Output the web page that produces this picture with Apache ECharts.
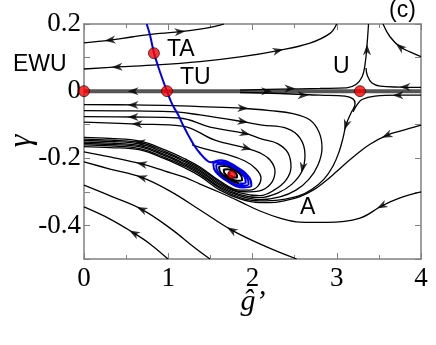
<!DOCTYPE html>
<html>
<head>
<meta charset="utf-8">
<script src="https://cdn.jsdelivr.net/npm/echarts/dist/echarts.min.js"></script>
<style>
html,body{margin:0;padding:0;background:#fff;}
#main{width:436px;height:345px;}
</style>
</head>
<body>
<div id="main"></div>
<script>
// tick labels
var xLabels = [0, 1, 2, 3, 4];
var yLabels = [0.2, 0, -0.2, -0.4];

// fixed points (red dots)
var fixedPoints = [[0, 0], [0.985, 0], [0.83, 0.113], [3.276, 0]];
var focusPoint = [[1.753, -0.248]];

// streamlines
var curveA = [[0,0.144],[0.309,0.152],[0.582,0.162],[0.902,0.172],[1.139,0.177],[1.377,0.185],[1.555,0.193],[1.662,0.2]];
var curveB = [[0,0.066],[0.392,0.072],[0.866,0.078],[1.377,0.088],[1.852,0.102],[2.306,0.121],[2.682,0.143],[2.920,0.172],[2.999,0.2]];
var curveTR = [[3.549,0.2],[3.632,0.162],[3.751,0.132],[3.869,0.117],[4,0.103]];
var zeroLine = [[0,0],[4,0]];
var uUpLeft = [[1.852,0.003],[2.326,0.006],[2.801,0.008],[3.118,0.010],[3.228,0.020],[3.300,0.042],[3.335,0.078],[3.359,0.137],[3.377,0.2]];
var uUpRight = [[4,0.011],[3.751,0.012],[3.513,0.015],[3.418,0.024],[3.365,0.045],[3.347,0.069]];
var uLow = [[1.852,-0.004],[2.326,-0.007],[2.801,-0.012],[3.098,-0.015],[3.193,-0.023],[3.217,-0.038],[3.169,-0.065],[3.110,-0.101],[3.074,-0.140],[3.027,-0.181],[2.956,-0.223],[2.849,-0.262],[2.706,-0.292],[2.540,-0.313],[2.326,-0.324],[2.089,-0.327],[1.852,-0.317],[1.614,-0.290],[1.377,-0.248],[1.199,-0.224],[0.961,-0.198],[0.665,-0.171],[0.309,-0.163],[0,-0.160]];
var uLowRight = [[4,-0.012],[3.727,-0.012],[3.454,-0.015],[3.300,-0.025],[3.240,-0.041],[3.193,-0.062]];
var curveR = [[4,-0.101],[3.751,-0.119],[3.593,-0.132],[3.395,-0.158],[3.276,-0.180],[3.098,-0.217],[2.991,-0.241],[2.861,-0.269],[2.718,-0.295],[2.564,-0.314],[2.386,-0.326],[2.208,-0.332],[2.089,-0.332],[1.852,-0.321],[1.614,-0.295],[1.377,-0.253],[1.199,-0.229],[0.961,-0.202],[0.665,-0.175],[0.309,-0.168],[0,-0.165]];
var loop1 = [[0,-0.040],[0.582,-0.041],[1.056,-0.043],[1.377,-0.046],[1.887,-0.051],[2.208,-0.058],[2.481,-0.067],[2.682,-0.086],[2.789,-0.122],[2.825,-0.169],[2.777,-0.220],[2.671,-0.262],[2.516,-0.295],[2.326,-0.315],[2.089,-0.323],[1.852,-0.312],[1.614,-0.286],[1.377,-0.244],[1.199,-0.220],[0.961,-0.193],[0.665,-0.166],[0.309,-0.159],[0,-0.156]];
var loop2 = [[0,-0.058],[0.582,-0.059],[1.092,-0.062],[1.377,-0.071],[1.887,-0.091],[2.113,-0.101],[2.406,-0.111],[2.564,-0.140],[2.623,-0.190],[2.588,-0.238],[2.469,-0.277],[2.303,-0.303],[2.089,-0.317],[1.852,-0.308],[1.614,-0.281],[1.377,-0.239],[1.199,-0.216],[0.961,-0.189],[0.665,-0.162],[0.309,-0.155],[0,-0.152]];
var loop3 = [[0,-0.076],[0.582,-0.077],[1.128,-0.080],[1.496,-0.107],[1.911,-0.126],[2.113,-0.143],[2.303,-0.157],[2.421,-0.184],[2.457,-0.226],[2.398,-0.265],[2.255,-0.295],[2.089,-0.311],[1.852,-0.303],[1.614,-0.277],[1.377,-0.235],[1.199,-0.211],[0.961,-0.184],[0.665,-0.158],[0.309,-0.150],[0,-0.147]];
var loop4 = [[0,-0.092],[0.629,-0.098],[1.163,-0.104],[1.555,-0.146],[1.931,-0.170],[2.089,-0.184],[2.208,-0.205],[2.267,-0.238],[2.231,-0.271],[2.113,-0.295],[1.970,-0.300],[1.852,-0.299],[1.614,-0.272],[1.377,-0.230],[1.199,-0.207],[0.961,-0.180],[0.665,-0.153],[0.309,-0.146],[0,-0.143]];
var loop5 = [[1.282,-0.160],[1.436,-0.172],[1.674,-0.187],[1.911,-0.208],[2.042,-0.232],[2.101,-0.259],[2.065,-0.283],[1.970,-0.295],[1.852,-0.295],[1.614,-0.268],[1.377,-0.226],[1.199,-0.202],[0.961,-0.175],[0.665,-0.149],[0.309,-0.141],[0,-0.138]];
var curveD1 = [[0,-0.181],[0.309,-0.196],[0.685,-0.217],[0.961,-0.238],[1.199,-0.257],[1.377,-0.277],[1.614,-0.302],[1.852,-0.329],[2.089,-0.357],[2.326,-0.378],[2.564,-0.390],[2.884,-0.391],[3.276,-0.378],[3.533,-0.342],[3.751,-0.318],[4,-0.300]];
var curveD2 = [[0,-0.211],[0.309,-0.232],[0.685,-0.257],[1.021,-0.298],[1.377,-0.354],[1.753,-0.414],[2.168,-0.464],[2.524,-0.5]];
var curveD3 = [[0,-0.280],[0.332,-0.314],[0.685,-0.352],[1.021,-0.408],[1.318,-0.467],[1.496,-0.5]];
var curveD4 = [[0,-0.345],[0.309,-0.381],[0.593,-0.423],[0.783,-0.455],[0.997,-0.5]];

// blue curve through TA and TU into the focus, then the dense blue spiral
var blueLine = [[0.744,0.2],[0.783,0.167],[0.831,0.114],[0.902,0.057],[0.985,0],[1.045,-0.038],[1.119,-0.071],[1.175,-0.101],[1.238,-0.131],[1.306,-0.161],[1.377,-0.185],[1.448,-0.204],[1.506,-0.212],
  [1.617,-0.206],[1.806,-0.225],[1.958,-0.256],[1.987,-0.282],[1.880,-0.287],[1.704,-0.269],[1.562,-0.240],[1.535,-0.216],
  [1.635,-0.212],[1.798,-0.228],[1.929,-0.255],[1.954,-0.277],[1.862,-0.281],[1.711,-0.266],[1.591,-0.241],[1.569,-0.221],
  [1.654,-0.217],[1.791,-0.231],[1.901,-0.254],[1.920,-0.272],[1.843,-0.275]];
// black core of the focus
var blackCore = [[1.843,-0.275],[1.719,-0.263],[1.620,-0.242],[1.603,-0.226],[1.672,-0.223],
  [1.783,-0.235],[1.866,-0.252],[1.877,-0.266],[1.817,-0.267],[1.730,-0.258],[1.666,-0.244],[1.659,-0.234],
  [1.705,-0.233],[1.770,-0.240],[1.815,-0.250],[1.817,-0.257],[1.784,-0.257],[1.742,-0.252],[1.717,-0.246],[1.718,-0.243],[1.738,-0.243]];

// arrow heads: x, y, direction (dx, dy on screen, dy up)
var arrows = [
  [0.309,0.152,-1,-0.12],[1.139,0.177,1,0.1],[0.392,0.072,-1,-0.05],[2.303,0.121,1,0.25],
  [3.751,0.132,-1,0.8],[3.359,0.123,0,1],[3.81,0.012,-1,0],[3.727,-0.012,-1,0],
  [2.445,0.008,1,0],[2.6,-0.012,1,0],[2.168,0,1,0],[0.582,0,-1,0],
  [3.11,-0.101,-0.32,-1],[3.593,-0.132,-1,-0.43],[2.595,-0.228,-0.2,-1],
  [1.887,-0.051,1,-0.06],[1.887,-0.091,1,-0.16],[1.911,-0.126,1,-0.23],[1.931,-0.170,1,-0.29],
  [0.582,-0.041,-1,0],[0.582,-0.077,-1,0],[0.629,-0.098,-1,0.05],[0.665,-0.153,-1,0.15],
  [0.685,-0.217,-1,0.21],[0.685,-0.257,-1,0.3],[0.685,-0.352,-1,0.45],[0.593,-0.423,-1,0.55],
  [3.533,-0.342,-1,-0.5],[1.753,-0.414,-1,0.6]
];

var streamlines = [curveA, curveB, curveTR, uUpLeft, uUpRight, uLow, uLowRight, curveR,
  loop1, loop2, loop3, loop4, loop5, curveD1, curveD2, curveD3, curveD4];

var myChart = echarts.init(document.getElementById('main'));

var series = [];
series.push({
  type: 'line', data: zeroLine, showSymbol: false, symbol: 'none', silent: true,
  lineStyle: {color: '#555', width: 4}, z: 2
});
for (var i = 0; i < streamlines.length; i++) {
  series.push({
    type: 'line', data: streamlines[i], smooth: 0.4, symbol: 'none', silent: true,
    lineStyle: {color: '#000', width: 1.3}, z: 3
  });
}
series.push({
  type: 'line', data: blueLine, smooth: 0.45, symbol: 'none', silent: true,
  lineStyle: {color: '#0000ee', width: 2}, z: 4
});
series.push({
  type: 'line', data: blackCore, smooth: 0.45, symbol: 'none', silent: true,
  lineStyle: {color: '#000', width: 2}, z: 4
});
series.push({
  type: 'scatter', data: arrows, silent: true,
  symbol: 'path://M5,0 L10,14 L5,10 L0,14 Z',
  symbolSize: [8, 11],
  symbolRotate: function (val) { return Math.atan2(-val[2], val[3]) * 180 / Math.PI; },
  itemStyle: {color: '#000'}, z: 6
});
series.push({
  type: 'scatter', data: fixedPoints, silent: true, symbolSize: 11,
  itemStyle: {color: '#ff0000', borderColor: '#000', borderWidth: 0.8}, z: 10
});
series.push({
  type: 'scatter', data: focusPoint, silent: true, symbolSize: 8,
  itemStyle: {color: '#ff0000', borderColor: '#000', borderWidth: 0.5}, z: 10
});

var axisCommon = {
  axisLine: {show: true, onZero: false, lineStyle: {color: '#808080', width: 1.5}},
  axisTick: {show: true, inside: true, length: 6, lineStyle: {color: '#808080', width: 1}},
  splitLine: {show: false}
};

var labelFont = '23px "Liberation Sans"';

var option = {
  animation: false,
  backgroundColor: '#fff',
  grid: {left: 84, right: 15, top: 24, bottom: 86, containLabel: false, outerBoundsMode: 'none'},
  xAxis: [
    Object.assign({
      type: 'value', min: 0, max: 4, interval: 1, position: 'bottom',
      minorTick: {show: true, splitNumber: 2, length: 4, lineStyle: {color: '#808080'}},
      axisLabel: {
        margin: 6, color: '#000', fontFamily: 'Liberation Serif', fontSize: 27,
        formatter: function (v) { return xLabels.indexOf(Math.round(v)) >= 0 ? String(Math.round(v)) : ''; }
      }
    }, axisCommon),
    Object.assign({
      type: 'value', min: 0, max: 4, interval: 1, position: 'top',
      minorTick: {show: true, splitNumber: 2, length: 4, lineStyle: {color: '#808080'}},
      axisLabel: {show: false}
    }, axisCommon)
  ],
  yAxis: [
    Object.assign({
      type: 'value', min: -0.5, max: 0.2, interval: 0.1, position: 'left',
      axisLabel: {
        margin: 3, color: '#000', fontFamily: 'Liberation Serif', fontSize: 27,
        formatter: function (v) {
          var r = Math.round(v * 10) / 10;
          for (var k = 0; k < yLabels.length; k++) {
            if (Math.abs(yLabels[k] - r) < 1e-6) return String(yLabels[k]);
          }
          return '';
        }
      }
    }, axisCommon),
    Object.assign({
      type: 'value', min: -0.5, max: 0.2, interval: 0.1, position: 'right',
      axisLabel: {show: false}
    }, axisCommon)
  ],
  graphic: [
    {type: 'text', left: 13, top: 53, style: {text: 'EWU', font: labelFont, fill: '#000'}},
    {type: 'text', left: 167, top: 38, style: {text: 'TA', font: labelFont, fill: '#000'}},
    {type: 'text', left: 180, top: 66, style: {text: 'TU', font: labelFont, fill: '#000'}},
    {type: 'text', left: 333, top: 55, style: {text: 'U', font: labelFont, fill: '#000'}},
    {type: 'text', left: 300, top: 196, style: {text: 'A', font: labelFont, fill: '#000'}},
    {type: 'text', left: 389, top: -1, style: {text: '(c)', font: labelFont, fill: '#000'}},
    // axis names
    {type: 'text', x: 253, y: 302,
      style: {text: 'ĝ’', font: 'italic 30px "Liberation Serif"', fill: '#000', align: 'center', verticalAlign: 'middle'}},
    {type: 'text', x: 22, y: 141, rotation: Math.PI / 2,
      style: {text: 'γ', font: 'italic 32px "Liberation Serif"', fill: '#000', align: 'center', verticalAlign: 'middle'}}
  ],
  series: series
};

myChart.setOption(option);
window.addEventListener("resize", function () {
  myChart.resize();
});
</script>
</body>
</html>
